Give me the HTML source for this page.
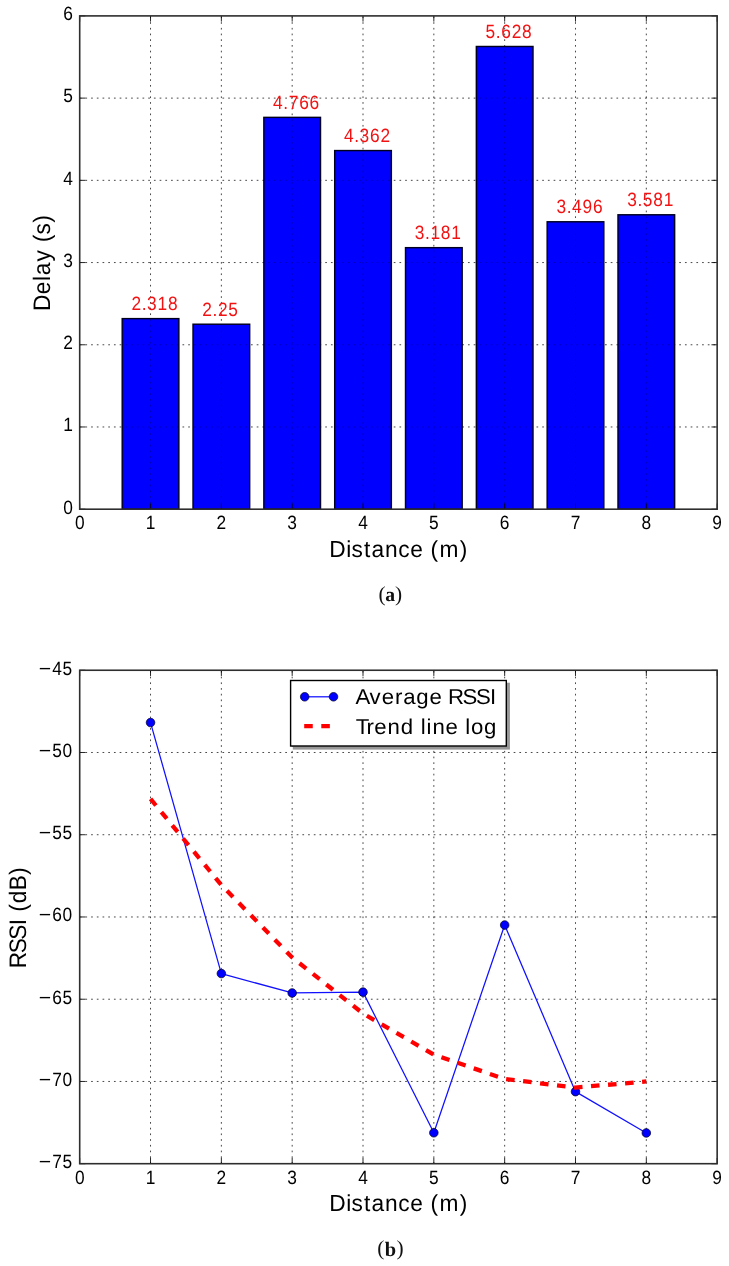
<!DOCTYPE html>
<html><head><meta charset="utf-8"><title>Delay and RSSI versus distance</title>
<style>
html,body{margin:0;padding:0;background:#fff}
svg{display:block;will-change:transform}
text{font-family:"Liberation Sans",sans-serif;text-rendering:geometricPrecision}
.cap{font-family:"Liberation Serif",serif;font-size:19px;fill:#111}
.grid{stroke:#000;stroke-width:.72;stroke-dasharray:1.7 4.01;fill:none}
.tick{stroke:#000;stroke-width:.85;fill:none}
.spine{stroke:#2e2e2e;stroke-width:1.6;fill:none}
.bar{fill:#00f;stroke:#00001e;stroke-width:1.43}
.bl{stroke:#1010ff;stroke-width:1.25;fill:none;stroke-linejoin:round}
.mk{fill:#00f;stroke:#00002a;stroke-width:.72}
.tr{stroke:#f00;stroke-width:4.28;fill:none;stroke-dasharray:8.55 8.54}
</style></head><body>
<svg width="729" height="1266" viewBox="0 0 729 1266">
<rect width="729" height="1266" fill="#fff"/>
<path d="M150.53 509.20V15.90" class="grid"/>
<path d="M221.36 509.20V15.90" class="grid"/>
<path d="M292.18 509.20V15.90" class="grid"/>
<path d="M363.01 509.20V15.90" class="grid"/>
<path d="M433.84 509.20V15.90" class="grid"/>
<path d="M504.67 509.20V15.90" class="grid"/>
<path d="M575.49 509.20V15.90" class="grid"/>
<path d="M646.32 509.20V15.90" class="grid"/>
<path d="M79.70 426.98H717.15" class="grid"/>
<path d="M79.70 344.77H717.15" class="grid"/>
<path d="M79.70 262.55H717.15" class="grid"/>
<path d="M79.70 180.33H717.15" class="grid"/>
<path d="M79.70 98.12H717.15" class="grid"/>
<g class="bar"><rect x="122.20" y="318.62" width="56.66" height="190.58"/><rect x="193.02" y="324.21" width="56.66" height="184.99"/><rect x="263.85" y="117.36" width="56.66" height="391.84"/><rect x="334.68" y="150.57" width="56.66" height="358.63"/><rect x="405.51" y="247.67" width="56.66" height="261.53"/><rect x="476.34" y="46.48" width="56.66" height="462.72"/><rect x="547.16" y="221.77" width="56.66" height="287.43"/><rect x="617.99" y="214.78" width="56.66" height="294.42"/></g>
<clipPath id="bc"><rect x="122.20" y="318.62" width="56.66" height="190.58"/><rect x="193.02" y="324.21" width="56.66" height="184.99"/><rect x="263.85" y="117.36" width="56.66" height="391.84"/><rect x="334.68" y="150.57" width="56.66" height="358.63"/><rect x="405.51" y="247.67" width="56.66" height="261.53"/><rect x="476.34" y="46.48" width="56.66" height="462.72"/><rect x="547.16" y="221.77" width="56.66" height="287.43"/><rect x="617.99" y="214.78" width="56.66" height="294.42"/></clipPath>
<g clip-path="url(#bc)" opacity=".38"><path d="M150.53 509.20V15.90" class="grid"/><path d="M221.36 509.20V15.90" class="grid"/><path d="M292.18 509.20V15.90" class="grid"/><path d="M363.01 509.20V15.90" class="grid"/><path d="M433.84 509.20V15.90" class="grid"/><path d="M504.67 509.20V15.90" class="grid"/><path d="M575.49 509.20V15.90" class="grid"/><path d="M646.32 509.20V15.90" class="grid"/><path d="M79.70 426.98H717.15" class="grid"/><path d="M79.70 344.77H717.15" class="grid"/><path d="M79.70 262.55H717.15" class="grid"/><path d="M79.70 180.33H717.15" class="grid"/><path d="M79.70 98.12H717.15" class="grid"/></g>
<path d="M79.70 509.20v-5.7M79.70 15.90v5.7M150.53 509.20v-5.7M150.53 15.90v5.7M221.36 509.20v-5.7M221.36 15.90v5.7M292.18 509.20v-5.7M292.18 15.90v5.7M363.01 509.20v-5.7M363.01 15.90v5.7M433.84 509.20v-5.7M433.84 15.90v5.7M504.67 509.20v-5.7M504.67 15.90v5.7M575.49 509.20v-5.7M575.49 15.90v5.7M646.32 509.20v-5.7M646.32 15.90v5.7M717.15 509.20v-5.7M717.15 15.90v5.7M79.70 509.20h5.7M717.15 509.20h-5.7M79.70 426.98h5.7M717.15 426.98h-5.7M79.70 344.77h5.7M717.15 344.77h-5.7M79.70 262.55h5.7M717.15 262.55h-5.7M79.70 180.33h5.7M717.15 180.33h-5.7M79.70 98.12h5.7M717.15 98.12h-5.7M79.70 15.90h5.7M717.15 15.90h-5.7" class="tick"/>
<rect x="79.70" y="15.90" width="637.45" height="493.30" class="spine"/>
<text x="131.42 141.66 147.07 157.51 167.94" y="0.00" font-size="17.33" fill="#f21212" transform="translate(0 310.12) scale(1 1.11)">2.318</text>
<text x="202.25 212.49 217.90 228.33" y="0.00" font-size="17.33" fill="#f21212" transform="translate(0 315.71) scale(1 1.11)">2.25</text>
<text x="273.08 283.32 288.73 299.16 309.60" y="0.00" font-size="17.33" fill="#f21212" transform="translate(0 108.86) scale(1 1.11)">4.766</text>
<text x="343.91 354.14 359.56 369.99 380.42" y="0.00" font-size="17.33" fill="#f21212" transform="translate(0 142.07) scale(1 1.11)">4.362</text>
<text x="414.74 424.97 430.38 440.82 451.25" y="0.00" font-size="17.33" fill="#f21212" transform="translate(0 239.17) scale(1 1.11)">3.181</text>
<text x="485.56 495.80 501.21 511.64 522.08" y="0.00" font-size="17.33" fill="#f21212" transform="translate(0 37.98) scale(1 1.11)">5.628</text>
<text x="556.39 566.63 572.04 582.47 592.91" y="0.00" font-size="17.33" fill="#f21212" transform="translate(0 213.27) scale(1 1.11)">3.496</text>
<text x="627.22 637.45 642.87 653.30 663.73" y="0.00" font-size="17.33" fill="#f21212" transform="translate(0 206.28) scale(1 1.11)">3.581</text>
<text x="63.36" y="0.00" font-size="17.33" fill="#000" transform="translate(0 513.50) scale(1 1.11)">0</text>
<text x="63.36" y="0.00" font-size="17.33" fill="#000" transform="translate(0 431.28) scale(1 1.11)">1</text>
<text x="63.36" y="0.00" font-size="17.33" fill="#000" transform="translate(0 349.07) scale(1 1.11)">2</text>
<text x="63.36" y="0.00" font-size="17.33" fill="#000" transform="translate(0 266.85) scale(1 1.11)">3</text>
<text x="63.36" y="0.00" font-size="17.33" fill="#000" transform="translate(0 184.63) scale(1 1.11)">4</text>
<text x="63.36" y="0.00" font-size="17.33" fill="#000" transform="translate(0 102.42) scale(1 1.11)">5</text>
<text x="63.36" y="0.00" font-size="17.33" fill="#000" transform="translate(0 20.20) scale(1 1.11)">6</text>
<text x="74.88" y="0.00" font-size="17.33" fill="#000" transform="translate(0 529.40) scale(1 1.11)">0</text>
<text x="145.71" y="0.00" font-size="17.33" fill="#000" transform="translate(0 529.40) scale(1 1.11)">1</text>
<text x="216.54" y="0.00" font-size="17.33" fill="#000" transform="translate(0 529.40) scale(1 1.11)">2</text>
<text x="287.36" y="0.00" font-size="17.33" fill="#000" transform="translate(0 529.40) scale(1 1.11)">3</text>
<text x="358.19" y="0.00" font-size="17.33" fill="#000" transform="translate(0 529.40) scale(1 1.11)">4</text>
<text x="429.02" y="0.00" font-size="17.33" fill="#000" transform="translate(0 529.40) scale(1 1.11)">5</text>
<text x="499.85" y="0.00" font-size="17.33" fill="#000" transform="translate(0 529.40) scale(1 1.11)">6</text>
<text x="570.67" y="0.00" font-size="17.33" fill="#000" transform="translate(0 529.40) scale(1 1.11)">7</text>
<text x="641.50" y="0.00" font-size="17.33" fill="#000" transform="translate(0 529.40) scale(1 1.11)">8</text>
<text x="712.33" y="0.00" font-size="17.33" fill="#000" transform="translate(0 529.40) scale(1 1.11)">9</text>
<text x="329.21 346.16 351.59 363.93 371.57 384.97 398.33 410.22 423.41 430.40 439.38 459.73" y="0.00" font-size="22.73" fill="#000" transform="translate(0 556.60) scale(1 1.02)">Distance (m)</text>
<g transform="translate(49.8 262.95) rotate(-90)">
<text x="-48.16 -31.38 -17.99 -12.21 1.38 13.68 20.67 28.56 40.26" y="0.00" font-size="22.73" fill="#000" transform="translate(0 0.00) scale(1 1.05)">Delay (s)</text>
</g>
<path d="M150.53 1163.70V670.25" class="grid"/>
<path d="M221.36 1163.70V670.25" class="grid"/>
<path d="M292.18 1163.70V670.25" class="grid"/>
<path d="M363.01 1163.70V670.25" class="grid"/>
<path d="M433.84 1163.70V670.25" class="grid"/>
<path d="M504.67 1163.70V670.25" class="grid"/>
<path d="M575.49 1163.70V670.25" class="grid"/>
<path d="M646.32 1163.70V670.25" class="grid"/>
<path d="M79.70 1081.46H717.15" class="grid"/>
<path d="M79.70 999.22H717.15" class="grid"/>
<path d="M79.70 916.98H717.15" class="grid"/>
<path d="M79.70 834.73H717.15" class="grid"/>
<path d="M79.70 752.49H717.15" class="grid"/>
<polyline points="150.53,722.56 221.36,973.56 292.18,992.97 363.01,992.14 433.84,1132.78 504.67,925.03 575.49,1091.66 646.32,1132.94" class="bl"/>
<circle cx="150.53" cy="722.56" r="4.3" class="mk"/>
<circle cx="221.36" cy="973.56" r="4.3" class="mk"/>
<circle cx="292.18" cy="992.97" r="4.3" class="mk"/>
<circle cx="363.01" cy="992.14" r="4.3" class="mk"/>
<circle cx="433.84" cy="1132.78" r="4.3" class="mk"/>
<circle cx="504.67" cy="925.03" r="4.3" class="mk"/>
<circle cx="575.49" cy="1091.66" r="4.3" class="mk"/>
<circle cx="646.32" cy="1132.94" r="4.3" class="mk"/>
<polyline points="150.53,798.88 221.36,885.07 292.18,957.44 363.01,1013.53 433.84,1054.65 504.67,1078.99 575.49,1087.54 646.32,1081.46" class="tr"/>
<path d="M79.70 1163.70v-5.7M79.70 670.25v5.7M150.53 1163.70v-5.7M150.53 670.25v5.7M221.36 1163.70v-5.7M221.36 670.25v5.7M292.18 1163.70v-5.7M292.18 670.25v5.7M363.01 1163.70v-5.7M363.01 670.25v5.7M433.84 1163.70v-5.7M433.84 670.25v5.7M504.67 1163.70v-5.7M504.67 670.25v5.7M575.49 1163.70v-5.7M575.49 670.25v5.7M646.32 1163.70v-5.7M646.32 670.25v5.7M717.15 1163.70v-5.7M717.15 670.25v5.7M79.70 1163.70h5.7M717.15 1163.70h-5.7M79.70 1081.46h5.7M717.15 1081.46h-5.7M79.70 999.22h5.7M717.15 999.22h-5.7M79.70 916.98h5.7M717.15 916.98h-5.7M79.70 834.73h5.7M717.15 834.73h-5.7M79.70 752.49h5.7M717.15 752.49h-5.7M79.70 670.25h5.7M717.15 670.25h-5.7" class="tick"/>
<rect x="79.70" y="670.25" width="637.45" height="493.45" class="spine"/>
<text y="0.00" font-size="17.33" fill="#000" transform="translate(0 1168.10) scale(1 1.11)"><tspan x="38.65" textLength="12.39" lengthAdjust="spacingAndGlyphs">−</tspan><tspan x="52.13 62.56">75</tspan></text>
<text y="0.00" font-size="17.33" fill="#000" transform="translate(0 1085.86) scale(1 1.11)"><tspan x="38.65" textLength="12.39" lengthAdjust="spacingAndGlyphs">−</tspan><tspan x="52.13 62.56">70</tspan></text>
<text y="0.00" font-size="17.33" fill="#000" transform="translate(0 1003.62) scale(1 1.11)"><tspan x="38.65" textLength="12.39" lengthAdjust="spacingAndGlyphs">−</tspan><tspan x="52.13 62.56">65</tspan></text>
<text y="0.00" font-size="17.33" fill="#000" transform="translate(0 921.38) scale(1 1.11)"><tspan x="38.65" textLength="12.39" lengthAdjust="spacingAndGlyphs">−</tspan><tspan x="52.13 62.56">60</tspan></text>
<text y="0.00" font-size="17.33" fill="#000" transform="translate(0 839.13) scale(1 1.11)"><tspan x="38.65" textLength="12.39" lengthAdjust="spacingAndGlyphs">−</tspan><tspan x="52.13 62.56">55</tspan></text>
<text y="0.00" font-size="17.33" fill="#000" transform="translate(0 756.89) scale(1 1.11)"><tspan x="38.65" textLength="12.39" lengthAdjust="spacingAndGlyphs">−</tspan><tspan x="52.13 62.56">50</tspan></text>
<text y="0.00" font-size="17.33" fill="#000" transform="translate(0 674.65) scale(1 1.11)"><tspan x="38.65" textLength="12.39" lengthAdjust="spacingAndGlyphs">−</tspan><tspan x="52.13 62.56">45</tspan></text>
<text x="74.88" y="0.00" font-size="17.33" fill="#000" transform="translate(0 1183.90) scale(1 1.11)">0</text>
<text x="145.71" y="0.00" font-size="17.33" fill="#000" transform="translate(0 1183.90) scale(1 1.11)">1</text>
<text x="216.54" y="0.00" font-size="17.33" fill="#000" transform="translate(0 1183.90) scale(1 1.11)">2</text>
<text x="287.36" y="0.00" font-size="17.33" fill="#000" transform="translate(0 1183.90) scale(1 1.11)">3</text>
<text x="358.19" y="0.00" font-size="17.33" fill="#000" transform="translate(0 1183.90) scale(1 1.11)">4</text>
<text x="429.02" y="0.00" font-size="17.33" fill="#000" transform="translate(0 1183.90) scale(1 1.11)">5</text>
<text x="499.85" y="0.00" font-size="17.33" fill="#000" transform="translate(0 1183.90) scale(1 1.11)">6</text>
<text x="570.67" y="0.00" font-size="17.33" fill="#000" transform="translate(0 1183.90) scale(1 1.11)">7</text>
<text x="641.50" y="0.00" font-size="17.33" fill="#000" transform="translate(0 1183.90) scale(1 1.11)">8</text>
<text x="712.33" y="0.00" font-size="17.33" fill="#000" transform="translate(0 1183.90) scale(1 1.11)">9</text>
<text x="329.21 346.16 351.59 363.93 371.57 384.97 398.33 410.22 423.41 430.40 439.38 459.73" y="0.00" font-size="22.73" fill="#000" transform="translate(0 1211.10) scale(1 1.02)">Distance (m)</text>
<g transform="translate(25.6 917.18) rotate(-90)">
<text x="-51.03 -36.11 -22.46 -8.04 -1.46 5.53 14.01 26.95 42.31" y="0.00" font-size="22.73" fill="#000" transform="translate(0 0.00) scale(1 1.05)">RSSI (dB)</text>
</g>
<rect x="293.50" y="683.40" width="215.70" height="65.50" fill="#969696" stroke="#969696" stroke-width="1.4"/>
<rect x="290.60" y="680.50" width="215.70" height="65.50" fill="#fff" stroke="#000" stroke-width="1.4"/>
<path d="M304.7 696.8H333.5" class="bl"/>
<circle cx="304.7" cy="696.8" r="4.3" class="mk"/><circle cx="333.5" cy="696.8" r="4.3" class="mk"/>
<path d="M304.2 726.05H333.5" class="tr"/>
<text x="355.58 369.60 381.65 394.90 403.18 416.28 429.40 442.29 447.99 462.56 475.89 489.98" y="0.00" font-size="22.20" fill="#000" transform="translate(0 703.60) scale(1 0.97)">Average RSSI</text>
<text x="355.73 366.46 374.30 387.42 400.74 413.83 420.70 426.53 432.40 445.52 458.40 465.27 470.91 484.00" y="0.00" font-size="22.20" fill="#000" transform="translate(0 733.50) scale(1 0.97)">Trend line log</text>
<text class="cap"><tspan x="378.40" y="600.70" font-size="21.4">(</tspan><tspan x="385.20" y="600.85" font-size="19.7" font-weight="bold">a</tspan><tspan x="394.90" y="600.70" font-size="21.4">)</tspan></text>
<text class="cap"><tspan x="377.20" y="1255.10" font-size="21.4">(</tspan><tspan x="384.70" y="1255.90" font-size="20.4" font-weight="bold">b</tspan><tspan x="396.40" y="1255.10" font-size="21.4">)</tspan></text>
</svg>
</body></html>
